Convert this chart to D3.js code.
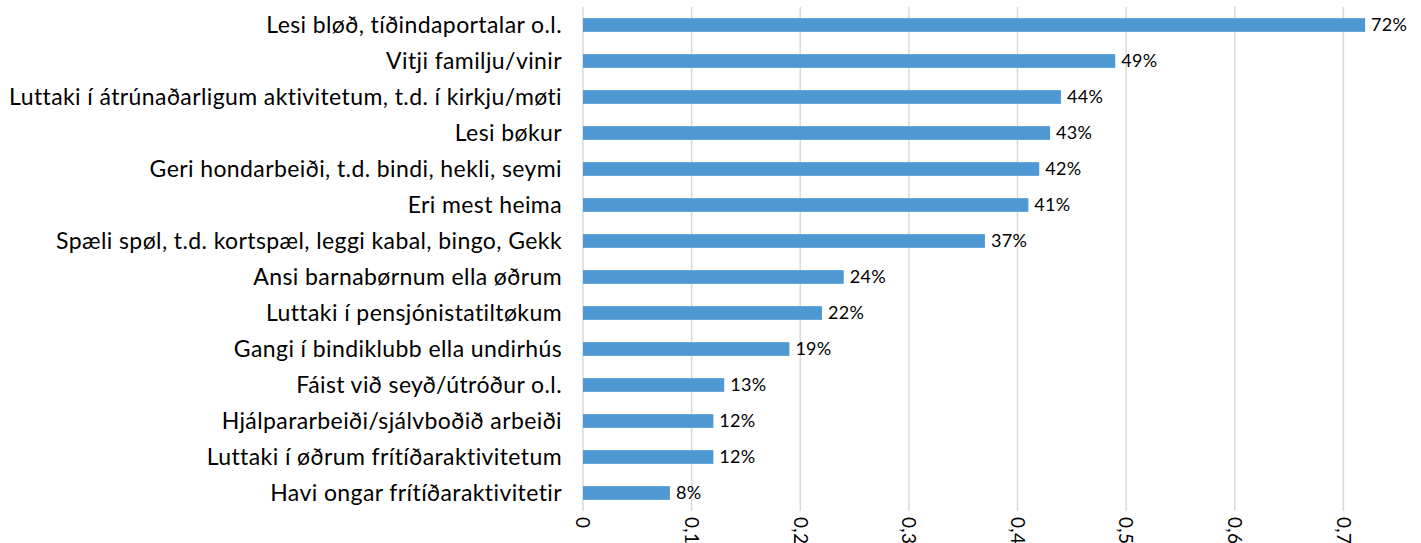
<!DOCTYPE html>
<html><head><meta charset="utf-8">
<script src="https://cdn.jsdelivr.net/npm/d3@7"></script>
<style>body{margin:0;background:#fff}</style>
</head><body>
<script>
const categories = [
  "Lesi bløð, tíðindaportalar o.l.",
  "Vitji familju/vinir",
  "Luttaki í átrúnaðarligum aktivitetum, t.d. í kirkju/møti",
  "Lesi bøkur",
  "Geri hondarbeiði, t.d. bindi, hekli, seymi",
  "Eri mest heima",
  "Spæli spøl, t.d. kortspæl, leggi kabal, bingo, Gekk",
  "Ansi barnabørnum ella øðrum",
  "Luttaki í pensjónistatiltøkum",
  "Gangi í bindiklubb ella undirhús",
  "Fáist við seyð/útróður o.l.",
  "Hjálpararbeiði/sjálvboðið arbeiði",
  "Luttaki í øðrum frítíðaraktivitetum",
  "Havi ongar frítíðaraktivitetir"
];
const values = [0.72, 0.49, 0.44, 0.43, 0.42, 0.41, 0.37, 0.24, 0.22, 0.19, 0.13, 0.12, 0.12, 0.08];
const tickValues = [0, 0.1, 0.2, 0.3, 0.4, 0.5, 0.6, 0.7];
const tickLabels = ["0", "0,1", "0,2", "0,3", "0,4", "0,5", "0,6", "0,7"];

const W = 1421, H = 543;
const font = "Lato, 'Open Sans', sans-serif";
const svg = d3.select("body").append("svg").attr("width", W).attr("height", H);

const x = d3.scaleLinear().domain([0, 0.8]).range([583, 1452]);
const y = d3.scaleBand().domain(categories).range([7, 511]).paddingInner(0.62).paddingOuter(0.31);

// gridlines
svg.append("g").selectAll("line").data(tickValues).join("line")
  .attr("x1", d => x(d)).attr("x2", d => x(d))
  .attr("y1", 7).attr("y2", 511)
  .attr("stroke", "#d9d9d9").attr("stroke-width", 1.5);

// bars
svg.append("g").selectAll("rect").data(values).join("rect")
  .attr("x", x(0))
  .attr("y", (d, i) => y(categories[i]))
  .attr("width", d => x(d) - x(0))
  .attr("height", y.bandwidth())
  .attr("fill", "#4e98d3");

// value labels
svg.append("g").selectAll("text").data(values).join("text")
  .attr("x", d => x(d) + 6)
  .attr("y", (d, i) => y(categories[i]) + y.bandwidth() / 2)
  .attr("dy", "0.35em")
  .attr("font-family", font).attr("font-size", 18).attr("letter-spacing", 0.3).attr("fill", "#000")
  .text(d => Math.round(d * 100) + "%");

// category labels
svg.append("g").selectAll("text").data(categories).join("text")
  .attr("x", 562)
  .attr("y", d => y(d) + y.bandwidth() / 2)
  .attr("dy", "0.35em")
  .attr("text-anchor", "end")
  .attr("font-family", font).attr("font-size", 23).attr("letter-spacing", 0.4).attr("fill", "#000")
  .text(d => d);

// x tick labels rotated
svg.append("g").selectAll("text").data(tickValues).join("text")
  .attr("transform", d => `translate(${x(d)},517) rotate(90)`)
  .attr("dy", "0.35em")
  .attr("font-family", font).attr("font-size", 19).attr("letter-spacing", 0.3).attr("fill", "#000")
  .text((d, i) => tickLabels[i]);
</script>
</body></html>
